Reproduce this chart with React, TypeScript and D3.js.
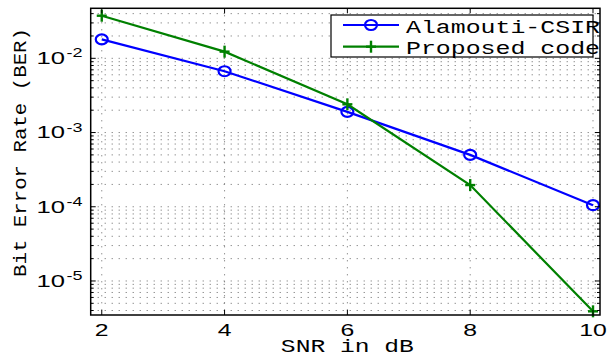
import * as d3 from 'd3';

// data
const snr = [2, 4, 6, 8, 10];
const alamoutiBer = [0.018, 0.0067, 0.0019, 0.0005, 0.000105];
const proposedBer = [0.0375, 0.0123, 0.0024, 0.000196, 0.0000039];
const seriesNames = ['Alamouti-CSIR', 'Proposed code'];
const seriesColors = ['#0000ff', '#008000'];
const xTicks = [2, 4, 6, 8, 10];
const yTickExps = [-5, -4, -3, -2];

const W = 607;
const H = 353;
const box = { left: 90.7, right: 600, top: 8.3, bottom: 315 };
const xLim = [1.82, 10.114];
const yLim = [3.48e-6, 0.0472];

const x = d3.scaleLinear().domain(xLim).range([box.left, box.right]);
const y = d3.scaleLog().domain(yLim).range([box.bottom, box.top]);

// all minor + major log levels inside the limits
const yGrid: number[] = [];
for (let e = -6; e <= -1; e++) {
  for (let k = 1; k <= 9; k++) {
    const v = k * Math.pow(10, e);
    if (v > yLim[0] && v < yLim[1]) yGrid.push(v);
  }
}

const line = d3
  .line<[number, number]>()
  .x((d) => x(d[0]))
  .y((d) => y(d[1]));

const series = [alamoutiBer, proposedBer].map((vals) => snr.map((s, i) => [s, vals[i]] as [number, number]));

const mono = '"Liberation Mono", "DejaVu Sans Mono", monospace';
const sans = '"Liberation Sans", Arial, sans-serif';

function Marker({ kind, cx, cy, color }: { kind: number; cx: number; cy: number; color: string }) {
  if (kind === 0) {
    return <ellipse cx={cx} cy={cy} rx={6} ry={5} fill="none" stroke={color} strokeWidth={2.2} />;
  }
  return (
    <g stroke={color} strokeWidth={2.4}>
      <line x1={cx - 5} x2={cx + 5} y1={cy} y2={cy} />
      <line x1={cx} x2={cx} y1={cy - 6} y2={cy + 6} />
    </g>
  );
}

export default function App() {
  const legend = { x: 331, y: 15, w: 262, h: 42 };
  const rowY = [25, 46.7];

  return (
    <svg width={W} height={H} style={{ position: 'absolute', left: 0, top: 0, background: '#fff' }}>
      <rect width={W} height={H} fill="#fff" />
      {/* grid */}
      <g stroke="#666" strokeWidth={1} strokeDasharray="1 6">
        {yGrid.map((v) => (
          <line key={'h' + v} x1={box.left} x2={box.right} y1={y(v)} y2={y(v)} />
        ))}
        {xTicks.map((t) => (
          <line key={'v' + t} x1={x(t)} x2={x(t)} y1={box.top} y2={box.bottom} />
        ))}
      </g>

      {/* series */}
      {series.map((pts, si) => (
        <g key={si}>
          <path d={line(pts) || ''} fill="none" stroke={seriesColors[si]} strokeWidth={2.2} />
          {pts.map((p, i) => (
            <Marker key={i} kind={si} cx={x(p[0])} cy={y(p[1])} color={seriesColors[si]} />
          ))}
        </g>
      ))}

      {/* frame and ticks */}
      <rect
        x={box.left}
        y={box.top}
        width={box.right - box.left}
        height={box.bottom - box.top}
        fill="none"
        stroke="#000"
        strokeWidth={1.5}
      />
      <g stroke="#000" strokeWidth={1}>
        {xTicks.map((t) => (
          <g key={t}>
            <line x1={x(t)} x2={x(t)} y1={box.bottom} y2={box.bottom - 5} />
            <line x1={x(t)} x2={x(t)} y1={box.top} y2={box.top + 5} />
          </g>
        ))}
        {yGrid.map((v) => {
          const major = Math.abs(Math.log10(v) - Math.round(Math.log10(v))) < 1e-9;
          const len = major ? 5 : 3;
          return (
            <g key={v}>
              <line x1={box.left} x2={box.left + len} y1={y(v)} y2={y(v)} />
              <line x1={box.right} x2={box.right - len} y1={y(v)} y2={y(v)} />
            </g>
          );
        })}
      </g>

      {/* x tick labels */}
      {xTicks.map((t) => (
        <text
          key={t}
          transform={`translate(${x(t)},336) scale(1.55,1)`}
          textAnchor="middle"
          fontFamily={sans}
          fontSize={16}
        >
          {t}
        </text>
      ))}

      {/* y tick labels */}
      {yTickExps.map((e) => {
        const ty = y(Math.pow(10, e));
        return (
          <g key={e} fontFamily={sans}>
            <text transform={`translate(65,${ty + 5.8}) scale(1.6,1)`} textAnchor="end" fontSize={16}>
              10
            </text>
            <text transform={`translate(66.5,${ty - 1}) scale(1.5,1)`} textAnchor="start" fontSize={12}>
              {'-' + Math.abs(e)}
            </text>
          </g>
        );
      })}

      {/* axis labels */}
      <text
        x={x(6)}
        y={352}
        textAnchor="middle"
        fontFamily={mono}
        fontSize={18}
        textLength={133}
        lengthAdjust="spacingAndGlyphs"
      >
        SNR in dB
      </text>
      <text
        transform="translate(26,152.5) rotate(-90)"
        textAnchor="middle"
        fontFamily={mono}
        fontSize={18}
        textLength={249}
        lengthAdjust="spacingAndGlyphs"
      >
        Bit Error Rate (BER)
      </text>

      {/* legend */}
      <rect x={legend.x} y={legend.y} width={legend.w} height={legend.h} fill="#fff" stroke="#000" strokeWidth={1.2} />
      {seriesNames.map((name, i) => (
        <g key={name}>
          <line x1={343} x2={399} y1={rowY[i]} y2={rowY[i]} stroke={seriesColors[i]} strokeWidth={2.2} />
          <Marker kind={i} cx={371} cy={rowY[i]} color={seriesColors[i]} />
          <text
            x={406}
            y={rowY[i] + 7.5}
            fontFamily={mono}
            fontSize={18}
            textLength={194}
            lengthAdjust="spacingAndGlyphs"
          >
            {name}
          </text>
        </g>
      ))}
    </svg>
  );
}
